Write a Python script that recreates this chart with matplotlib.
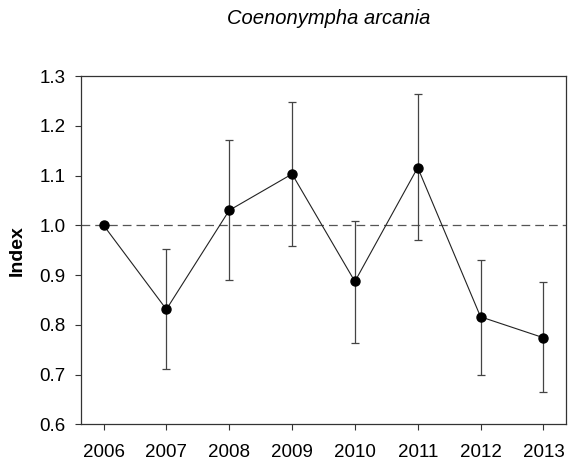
import numpy as np
import matplotlib
matplotlib.use("Agg")
import matplotlib.pyplot as plt

plt.rcParams['font.family'] = ['Liberation Sans', 'DejaVu Sans']

# values
years = [2006, 2007, 2008, 2009, 2010, 2011, 2012, 2013]
index = [1.000, 0.831, 1.030, 1.103, 0.887, 1.116, 0.816, 0.774]
upper = [1.000, 0.952, 1.171, 1.247, 1.009, 1.263, 0.930, 0.886]
lower = [1.000, 0.711, 0.889, 0.959, 0.763, 0.970, 0.700, 0.664]

idx = np.array(index)
yerr = [idx - np.array(lower), np.array(upper) - idx]

fig = plt.figure(figsize=(5.7, 4.68), dpi=100)
ax = fig.add_axes([0.142, 0.0934, 0.851, 0.7442])

ax.axhline(1.0, color='#555555', linestyle=(0, (7, 4)), linewidth=0.9, zorder=1)
ax.errorbar(years, index, yerr=yerr, fmt='none', ecolor='#444444',
            elinewidth=0.9, capsize=3.2, capthick=0.9, zorder=2)
ax.plot(years, index, '-', color='#222222', linewidth=0.8, zorder=3)
ax.plot(years, index, 'o', color='black', markersize=6.5, zorder=4)

ax.set_xlim(2005.64, 2013.36)
ax.set_ylim(0.6, 1.3)
ax.set_xticks(years)
ax.set_yticks(np.arange(0.6, 1.31, 0.1))
ax.set_yticklabels([f"{v:.1f}" for v in np.arange(0.6, 1.31, 0.1)])
ax.tick_params(axis='both', direction='out', length=4, width=0.8,
               labelsize=13.5, top=False, right=False, color='#333333')
ax.tick_params(axis='x', pad=10.5)
ax.tick_params(axis='y', pad=7)
for s in ax.spines.values():
    s.set_linewidth(0.9)
    s.set_color('#333333')

ax.set_ylabel('Index', fontsize=14, fontweight='bold', labelpad=10)
fig.text(0.577, 1 - 18 / 468, 'Coenonympha arcania', ha='center', va='center',
         fontsize=14.5, style='italic')

fig.savefig('out.png', dpi=100)
